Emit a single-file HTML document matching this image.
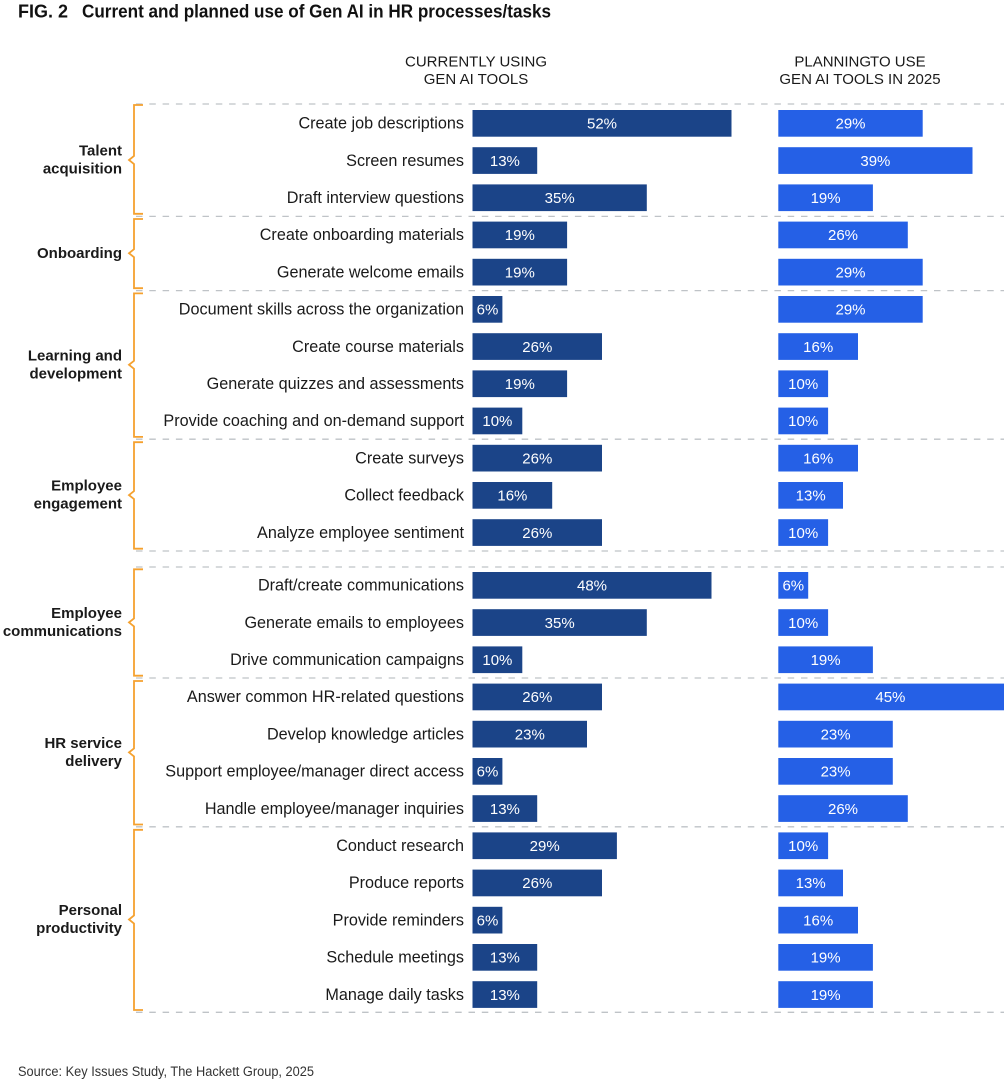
<!DOCTYPE html>
<html>
<head>
<meta charset="utf-8">
<style>
  html, body { margin: 0; padding: 0; background: #ffffff; }
  body { width: 1004px; height: 1080px; overflow: hidden; }
  svg { display: block; }
  text { font-family: "Liberation Sans", Arial, sans-serif; }
  .lbl { font-size: 16.2px; fill: #1a1a1a; text-anchor: end; }
  .cat { font-size: 15px; font-weight: bold; fill: #1a1a1a; text-anchor: end; }
  .val { font-size: 15px; fill: #ffffff; text-anchor: middle; }
  .hdr { font-size: 15px; fill: #1a1a1a; text-anchor: middle; }
  .dl { stroke: #bfc3c7; stroke-width: 1.3; stroke-dasharray: 6.5 6.8; fill: none; }
  .br { stroke: #f5a12f; stroke-width: 1.8; fill: none; stroke-linejoin: miter; }
  .L { fill: #1b4488; }
  .R { fill: #2560e6; }
</style>
</head>
<body>
<svg width="1004" height="1080" viewBox="0 0 1004 1080" xmlns="http://www.w3.org/2000/svg">
  <!-- Title -->
  <text x="18" y="17.5" font-size="18" font-weight="bold" fill="#111">FIG. 2</text>
  <text x="82" y="17.5" font-size="18" font-weight="bold" fill="#111" textLength="469" lengthAdjust="spacingAndGlyphs">Current and planned use of Gen AI in HR processes/tasks</text>

  <!-- Headers -->
  <text class="hdr" x="476" y="66.5">CURRENTLY USING</text>
  <text class="hdr" x="476" y="84">GEN AI TOOLS</text>
  <text class="hdr" x="860" y="66.5">PLANNING<tspan dx="-1">TO USE</tspan></text>
  <text class="hdr" x="860" y="84">GEN AI TOOLS IN 2025</text>

  <!-- Dashed separators -->
  <line class="dl" x1="136" y1="104" x2="1004" y2="104"/>
  <line class="dl" x1="136" y1="216.4" x2="1004" y2="216.4"/>
  <line class="dl" x1="136" y1="290.6" x2="1004" y2="290.6"/>
  <line class="dl" x1="136" y1="439.2" x2="1004" y2="439.2"/>
  <line class="dl" x1="136" y1="551" x2="1004" y2="551"/>
  <line class="dl" x1="136" y1="567" x2="1004" y2="567"/>
  <line class="dl" x1="136" y1="678" x2="1004" y2="678"/>
  <line class="dl" x1="136" y1="826.8" x2="1004" y2="826.8"/>
  <line class="dl" x1="136" y1="1012.3" x2="1004" y2="1012.3"/>

  <!-- Brackets -->
  <path class="br" d="M143,105 H134 V156 L129,160 L134,164 V213.8 H143"/>
  <path class="br" d="M143,219 H134 V249.2 L129,253.2 L134,257.2 V288.2 H143"/>
  <path class="br" d="M143,293.4 H134 V360.8 L129,364.8 L134,368.8 V436.9 H143"/>
  <path class="br" d="M143,442.2 H134 V491.1 L129,495.1 L134,499.1 V548.7 H143"/>
  <path class="br" d="M143,569.3 H134 V618.4 L129,622.4 L134,626.4 V675.7 H143"/>
  <path class="br" d="M143,681 H134 V748.4 L129,752.4 L134,756.4 V824.5 H143"/>
  <path class="br" d="M143,829.8 H134 V915.5 L129,919.5 L134,923.5 V1010 H143"/>

  <!-- Category labels -->
  <text class="cat" x="122" y="155.5">Talent</text>
  <text class="cat" x="122" y="173.5">acquisition</text>
  <text class="cat" x="122" y="258">Onboarding</text>
  <text class="cat" x="122" y="360.3">Learning and</text>
  <text class="cat" x="122" y="378.3">development</text>
  <text class="cat" x="122" y="490.6">Employee</text>
  <text class="cat" x="122" y="508.6">engagement</text>
  <text class="cat" x="122" y="617.9">Employee</text>
  <text class="cat" x="122" y="635.9">communications</text>
  <text class="cat" x="122" y="747.9">HR service</text>
  <text class="cat" x="122" y="765.9">delivery</text>
  <text class="cat" x="122" y="915">Personal</text>
  <text class="cat" x="122" y="933">productivity</text>

  <!-- Row labels -->
  <text class="lbl" x="464" y="128.6">Create job descriptions</text>
  <text class="lbl" x="464" y="165.8">Screen resumes</text>
  <text class="lbl" x="464" y="203">Draft interview questions</text>
  <text class="lbl" x="464" y="240.2">Create onboarding materials</text>
  <text class="lbl" x="464" y="277.4">Generate welcome emails</text>
  <text class="lbl" x="464" y="314.6">Document skills across the organization</text>
  <text class="lbl" x="464" y="351.8">Create course materials</text>
  <text class="lbl" x="464" y="389">Generate quizzes and assessments</text>
  <text class="lbl" x="464" y="426.2">Provide coaching and on-demand support</text>
  <text class="lbl" x="464" y="463.4">Create surveys</text>
  <text class="lbl" x="464" y="500.6">Collect feedback</text>
  <text class="lbl" x="464" y="537.8">Analyze employee sentiment</text>
  <text class="lbl" x="464" y="590.6">Draft/create communications</text>
  <text class="lbl" x="464" y="627.8">Generate emails to employees</text>
  <text class="lbl" x="464" y="665">Drive communication campaigns</text>
  <text class="lbl" x="464" y="702.2">Answer common HR-related questions</text>
  <text class="lbl" x="464" y="739.4">Develop knowledge articles</text>
  <text class="lbl" x="464" y="776.6">Support employee/manager direct access</text>
  <text class="lbl" x="464" y="813.8">Handle employee/manager inquiries</text>
  <text class="lbl" x="464" y="851">Conduct research</text>
  <text class="lbl" x="464" y="888.2">Produce reports</text>
  <text class="lbl" x="464" y="925.4">Provide reminders</text>
  <text class="lbl" x="464" y="962.6">Schedule meetings</text>
  <text class="lbl" x="464" y="999.8">Manage daily tasks</text>

  <!-- Left bars (currently using) -->
  <rect class="L" x="472.5" y="110" width="259" height="26.7"/>
  <rect class="L" x="472.5" y="147.2" width="64.7" height="26.7"/>
  <rect class="L" x="472.5" y="184.4" width="174.3" height="26.7"/>
  <rect class="L" x="472.5" y="221.6" width="94.6" height="26.7"/>
  <rect class="L" x="472.5" y="258.8" width="94.6" height="26.7"/>
  <rect class="L" x="472.5" y="296" width="29.9" height="26.7"/>
  <rect class="L" x="472.5" y="333.2" width="129.5" height="26.7"/>
  <rect class="L" x="472.5" y="370.4" width="94.6" height="26.7"/>
  <rect class="L" x="472.5" y="407.6" width="49.8" height="26.7"/>
  <rect class="L" x="472.5" y="444.8" width="129.5" height="26.7"/>
  <rect class="L" x="472.5" y="482" width="79.7" height="26.7"/>
  <rect class="L" x="472.5" y="519.2" width="129.5" height="26.7"/>
  <rect class="L" x="472.5" y="572" width="239" height="26.7"/>
  <rect class="L" x="472.5" y="609.2" width="174.3" height="26.7"/>
  <rect class="L" x="472.5" y="646.4" width="49.8" height="26.7"/>
  <rect class="L" x="472.5" y="683.6" width="129.5" height="26.7"/>
  <rect class="L" x="472.5" y="720.8" width="114.5" height="26.7"/>
  <rect class="L" x="472.5" y="758" width="29.9" height="26.7"/>
  <rect class="L" x="472.5" y="795.2" width="64.7" height="26.7"/>
  <rect class="L" x="472.5" y="832.4" width="144.4" height="26.7"/>
  <rect class="L" x="472.5" y="869.6" width="129.5" height="26.7"/>
  <rect class="L" x="472.5" y="906.8" width="29.9" height="26.7"/>
  <rect class="L" x="472.5" y="944" width="64.7" height="26.7"/>
  <rect class="L" x="472.5" y="981.2" width="64.7" height="26.7"/>

  <!-- Left values -->
  <text class="val" x="602" y="128.6">52%</text>
  <text class="val" x="504.9" y="165.8">13%</text>
  <text class="val" x="559.7" y="203">35%</text>
  <text class="val" x="519.8" y="240.2">19%</text>
  <text class="val" x="519.8" y="277.4">19%</text>
  <text class="val" x="487.5" y="314.6">6%</text>
  <text class="val" x="537.3" y="351.8">26%</text>
  <text class="val" x="519.8" y="389">19%</text>
  <text class="val" x="497.4" y="426.2">10%</text>
  <text class="val" x="537.3" y="463.4">26%</text>
  <text class="val" x="512.4" y="500.6">16%</text>
  <text class="val" x="537.3" y="537.8">26%</text>
  <text class="val" x="592" y="590.6">48%</text>
  <text class="val" x="559.7" y="627.8">35%</text>
  <text class="val" x="497.4" y="665">10%</text>
  <text class="val" x="537.3" y="702.2">26%</text>
  <text class="val" x="529.8" y="739.4">23%</text>
  <text class="val" x="487.5" y="776.6">6%</text>
  <text class="val" x="504.9" y="813.8">13%</text>
  <text class="val" x="544.7" y="851">29%</text>
  <text class="val" x="537.3" y="888.2">26%</text>
  <text class="val" x="487.5" y="925.4">6%</text>
  <text class="val" x="504.9" y="962.6">13%</text>
  <text class="val" x="504.9" y="999.8">13%</text>

  <!-- Right bars (planning) -->
  <rect class="R" x="778.3" y="110" width="144.4" height="26.7"/>
  <rect class="R" x="778.3" y="147.2" width="194.2" height="26.7"/>
  <rect class="R" x="778.3" y="184.4" width="94.6" height="26.7"/>
  <rect class="R" x="778.3" y="221.6" width="129.5" height="26.7"/>
  <rect class="R" x="778.3" y="258.8" width="144.4" height="26.7"/>
  <rect class="R" x="778.3" y="296" width="144.4" height="26.7"/>
  <rect class="R" x="778.3" y="333.2" width="79.7" height="26.7"/>
  <rect class="R" x="778.3" y="370.4" width="49.8" height="26.7"/>
  <rect class="R" x="778.3" y="407.6" width="49.8" height="26.7"/>
  <rect class="R" x="778.3" y="444.8" width="79.7" height="26.7"/>
  <rect class="R" x="778.3" y="482" width="64.7" height="26.7"/>
  <rect class="R" x="778.3" y="519.2" width="49.8" height="26.7"/>
  <rect class="R" x="778.3" y="572" width="29.9" height="26.7"/>
  <rect class="R" x="778.3" y="609.2" width="49.8" height="26.7"/>
  <rect class="R" x="778.3" y="646.4" width="94.6" height="26.7"/>
  <rect class="R" x="778.3" y="683.6" width="225.7" height="26.7"/>
  <rect class="R" x="778.3" y="720.8" width="114.5" height="26.7"/>
  <rect class="R" x="778.3" y="758" width="114.5" height="26.7"/>
  <rect class="R" x="778.3" y="795.2" width="129.5" height="26.7"/>
  <rect class="R" x="778.3" y="832.4" width="49.8" height="26.7"/>
  <rect class="R" x="778.3" y="869.6" width="64.7" height="26.7"/>
  <rect class="R" x="778.3" y="906.8" width="79.7" height="26.7"/>
  <rect class="R" x="778.3" y="944" width="94.6" height="26.7"/>
  <rect class="R" x="778.3" y="981.2" width="94.6" height="26.7"/>

  <!-- Right values -->
  <text class="val" x="850.5" y="128.6">29%</text>
  <text class="val" x="875.4" y="165.8">39%</text>
  <text class="val" x="825.6" y="203">19%</text>
  <text class="val" x="843" y="240.2">26%</text>
  <text class="val" x="850.5" y="277.4">29%</text>
  <text class="val" x="850.5" y="314.6">29%</text>
  <text class="val" x="818.2" y="351.8">16%</text>
  <text class="val" x="803.2" y="389">10%</text>
  <text class="val" x="803.2" y="426.2">10%</text>
  <text class="val" x="818.2" y="463.4">16%</text>
  <text class="val" x="810.7" y="500.6">13%</text>
  <text class="val" x="803.2" y="537.8">10%</text>
  <text class="val" x="793.3" y="590.6">6%</text>
  <text class="val" x="803.2" y="627.8">10%</text>
  <text class="val" x="825.6" y="665">19%</text>
  <text class="val" x="890.4" y="702.2">45%</text>
  <text class="val" x="835.6" y="739.4">23%</text>
  <text class="val" x="835.6" y="776.6">23%</text>
  <text class="val" x="843" y="813.8">26%</text>
  <text class="val" x="803.2" y="851">10%</text>
  <text class="val" x="810.7" y="888.2">13%</text>
  <text class="val" x="818.2" y="925.4">16%</text>
  <text class="val" x="825.6" y="962.6">19%</text>
  <text class="val" x="825.6" y="999.8">19%</text>

  <!-- Source -->
  <text x="18" y="1076" font-size="13.5" fill="#333" textLength="296" lengthAdjust="spacingAndGlyphs">Source: Key Issues Study, The Hackett Group, 2025</text>
</svg>
</body>
</html>
